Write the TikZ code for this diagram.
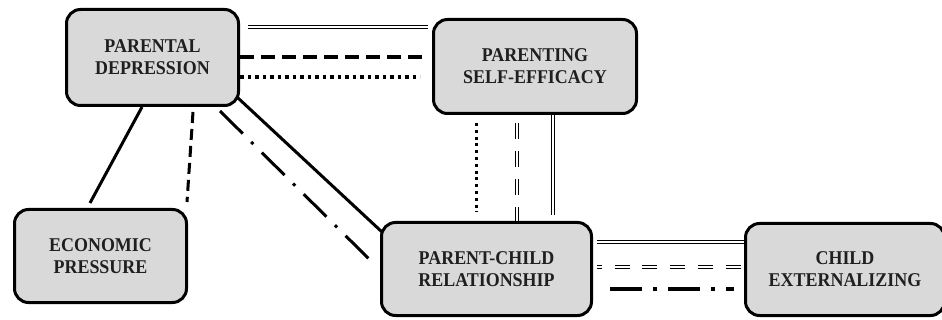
\documentclass[tikz,border=0pt]{standalone}
\usepackage{fontspec}
\setmainfont{Liberation Serif}[FakeStretch=0.92]

\begin{document}
\begin{tikzpicture}[y=-1pt, x=1pt,font=\fontsize{19.5}{22}\selectfont\bfseries,
        factor/.style={draw, line width=3pt, rounded corners=14pt, fill=black!15,
          text=black!88, align=center, inner sep=0pt, outer sep=0pt},
        link/.style={line width=3pt},
        twin/.style={double, double distance=2pt, line width=1pt}]
        \useasboundingbox (0,0) rectangle (942,320);
        % boxes
        \node[factor, minimum width=172pt, minimum height=96pt] (pd) at (152.5,57.5) {PARENTAL\\DEPRESSION};
        \node[factor, minimum width=203pt, minimum height=94pt] (pse) at (535,66.5) {PARENTING\\SELF-EFFICACY};
        \node[factor, minimum width=172pt, minimum height=93pt] (ep) at (100.5,256) {ECONOMIC\\PRESSURE};
        \node[factor, minimum width=210pt, minimum height=93pt] (pcr) at (486.5,269) {PARENT-CHILD\\RELATIONSHIP};
        \node[factor, minimum width=199pt, minimum height=92pt] (ce) at (845,269.5) {CHILD\\EXTERNALIZING};
        % depression - self-efficacy
        \draw[twin] ([shift={(9.5,-30.5)}]pd.east) -- ([shift={(-5.5,-39.5)}]pse.west);
        \draw[line width=4pt, dash pattern=on 14pt off 7pt] ([shift={(1.5,-0.5)}]pd.east) -- ([shift={(-11.5,-9.5)}]pse.west);
        \draw[line width=3.5pt, dash pattern=on 3.5pt off 4pt] ([shift={(1.5,19.5)}]pd.east) -- ([shift={(-13.5,10.5)}]pse.west);
        % depression - economic pressure
        \draw[link] ([shift={(-10.5,1.5)}]pd.south) -- ([shift={(-10.5,-6.5)}]ep.north);
        \draw[link, dash pattern=on 11pt off 6pt] ([shift={(40.5,6.5)}]pd.south) -- ([shift={(86.5,-7.5)}]ep.north);
        % depression - parent-child
        \draw[link] ([shift={(-0.5,-7.5)}]pd.south east) -- ([shift={(0.5,9.5)}]pcr.north west);
        \draw[link, dash pattern=on 32pt off 12pt on 3pt off 12pt] ([shift={(-18.5,5.5)}]pd.south east) -- ([shift={(-11.5,-9)}]pcr.west);
        % self-efficacy - parent-child
        \draw[link, dash pattern=on 3pt off 3.8pt] ([shift={(-59,9.5)}]pse.south) -- ([shift={(-10.5,-10.5)}]pcr.north);
        \draw[twin, dash pattern=on 16pt off 12pt] ([shift={(-18,9.5)}]pse.south) -- ([shift={(30.5,-1.5)}]pcr.north);
        \draw[twin] ([shift={(18,1.5)}]pse.south) -- ([shift={(66.5,-7.5)}]pcr.north);
        % parent-child - externalizing
        \draw[twin] ([shift={(5.5,-27)}]pcr.east) -- ([shift={(-1.5,-27.5)}]ce.west);
        \draw[twin, dash pattern=on 15pt off 12.7pt, dash phase=10pt] ([shift={(5.5,-2)}]pcr.east) -- ([shift={(-1.5,-2.5)}]ce.west);
        \draw[line width=3.5pt, dash pattern=on 32pt off 11pt on 4pt off 11pt] ([shift={(18.5,20)}]pcr.east) -- ([shift={(-11.5,19.5)}]ce.west);
      \end{tikzpicture}
\end{document}
